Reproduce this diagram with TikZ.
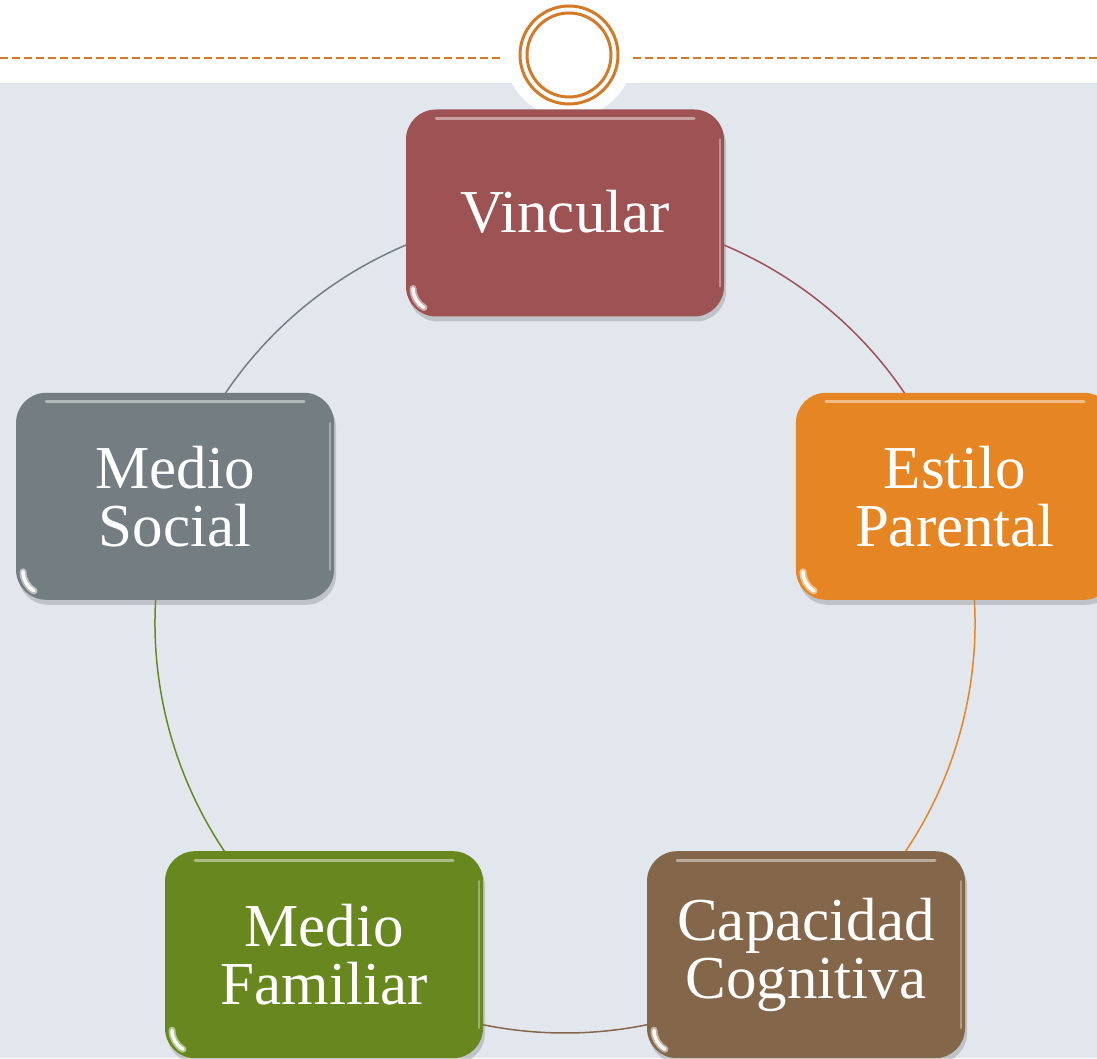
\documentclass[tikz,border=0pt]{standalone}
\usepackage{fontspec}
\newfontfamily\boxfont{Liberation Serif}
\usetikzlibrary{shadows,calc}
\pgfdeclarelayer{back}
\pgfdeclarelayer{bg}
\pgfsetlayers{back,bg,main}
\definecolor{bgblue}{HTML}{E2E7EE}
\definecolor{ringor}{HTML}{D27A28}
\definecolor{cvin}{HTML}{9D5253}
\definecolor{cest}{HTML}{E68524}
\definecolor{ccap}{HTML}{84664A}
\definecolor{cfam}{HTML}{68881F}
\definecolor{csoc}{HTML}{737D82}
\tikzset{
  box/.style={rectangle, rounded corners=30pt, fill=#1,
    minimum width=318pt, minimum height=207pt, inner sep=0pt,
    text=white, align=center,
    font=\boxfont\fontsize{61}{58}\selectfont,
    drop shadow={shadow xshift=2pt, shadow yshift=-5pt, opacity=.35},
    path picture={
      \draw[white, opacity=.45, line width=3pt, line cap=round]
        ([xshift=30pt,yshift=-9pt]path picture bounding box.north west) --
        ([xshift=-30pt,yshift=-9pt]path picture bounding box.north east);
      \draw[white, opacity=.35, line width=2pt, line cap=round]
        ([xshift=-4pt,yshift=-30pt]path picture bounding box.north east) --
        ([xshift=-4pt,yshift=30pt]path picture bounding box.south east);
      \draw[white, opacity=.5, line width=7pt, line cap=round]
        ([xshift=7pt,yshift=28pt]path picture bounding box.south west)
        arc[start angle=180, end angle=240, radius=22pt];
      \draw[white, opacity=.9, line width=3.5pt, line cap=round]
        ([xshift=7pt,yshift=28pt]path picture bounding box.south west)
        arc[start angle=180, end angle=240, radius=22pt];
    }},
  ringarc/.style={line width=1.5pt, #1},
  dashline/.style={ringor, line width=1.8pt, dash pattern=on 8pt off 4pt},
}
\begin{document}
\begin{tikzpicture}[x=1pt,y=1pt]
\useasboundingbox (0,0) rectangle (1097,1058);
\clip (0,0) rectangle (1097,1058);
\begin{pgfonlayer}{back}
\fill[white] (0,0) rectangle (1097,1058);
\fill[bgblue] (0,0) rectangle (1097,975);
\fill[white] (569,1004) circle[radius=64];
\end{pgfonlayer}
\draw[dashline] (0,1000) -- (504,1000);
\draw[dashline] (633,1000) -- (1097,1000);
\node[circle, draw=ringor, line width=3pt, minimum size=98pt] (ring) at (569,1003) {};
\node[circle, draw=ringor, line width=3pt, minimum size=84pt] (ringin) at (ring.center) {};
\coordinate (C) at (565,435);
\node[box=cvin] (vin) at ($(C)+(90:410)$) {\raisebox{4pt}{Vincular}};
\node[box=cest] (est) at ($(C)+(18:410)$) {Estilo\\Parental};
\node[box=ccap] (cap) at ($(C)+(-54:410)$) {Capacidad\\Cognitiva};
\node[box=cfam] (fam) at ($(C)+(-126:410)$) {Medio\\Familiar};
\node[box=csoc] (soc) at ($(C)+(162:410)$) {Medio\\Social};
\begin{pgfonlayer}{bg}
\draw[ringarc=cvin] (vin.center) arc[start angle=90, end angle=18, radius=410];
\draw[ringarc=cest] (est.center) arc[start angle=18, end angle=-54, radius=410];
\draw[ringarc=ccap] (cap.center) arc[start angle=-54, end angle=-126, radius=410];
\draw[ringarc=cfam] (fam.center) arc[start angle=-126, end angle=-198, radius=410];
\draw[ringarc=csoc] (soc.center) arc[start angle=162, end angle=90, radius=410];
\end{pgfonlayer}
\end{tikzpicture}
\end{document}
